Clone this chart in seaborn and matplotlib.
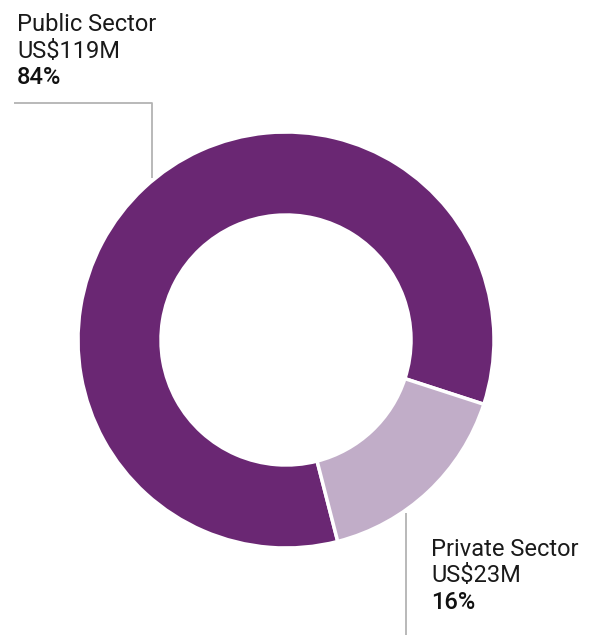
import matplotlib
matplotlib.use("Agg")
import matplotlib.pyplot as plt
import seaborn as sns

sns.set_theme(style="white")
plt.rcParams["font.family"] = ["Roboto", "DejaVu Sans"]

# Funding split
sectors = ["Public Sector", "Private Sector"]
amounts = ["US$119M", "US$23M"]
shares = [84, 16]
colors = ["#6a2773", "#c1adc8"]

W, H = 594, 635
fig = plt.figure(figsize=(W / 100, H / 100), dpi=100)
ax = fig.add_axes([0, 0, 1, 1])
ax.set_xlim(0, W)
ax.set_ylim(0, H)
ax.set_aspect("equal")
ax.axis("off")

cx, cy, r = 286, H - 340, 208
ax.pie(shares, colors=colors, startangle=-18, counterclock=True,
       center=(cx, cy), radius=r, frame=True,
       wedgeprops=dict(width=83, edgecolor="white", linewidth=2.5))
ax.set_xlim(0, W)
ax.set_ylim(0, H)
ax.axis("off")

line_kw = dict(color="#b3b3b3", lw=1.3, solid_capstyle="butt")
# leader for public sector
ax.plot([14, 152, 152], [H - 103, H - 103, H - 178], **line_kw)
# leader for private sector
ax.plot([406, 406], [H - 513, 0], **line_kw)

fs = 17

def label(x, y_base, name, amount, share):
    ax.text(x, H - y_base, name, fontsize=fs, color="#1a1a1a", va="baseline", ha="left",
            fontweight="normal")
    ax.text(x, H - (y_base + 26.5), amount, fontsize=fs, color="#1a1a1a", va="baseline",
            ha="left", fontweight="normal")
    ax.text(x, H - (y_base + 53), f"{share}%", fontsize=fs, color="#111111",
            va="baseline", ha="left", fontweight="medium")

label(17, 31, sectors[0], amounts[0], shares[0])
label(431, 556, sectors[1], amounts[1], shares[1])

fig.savefig("out.png", dpi=100, facecolor="white")
